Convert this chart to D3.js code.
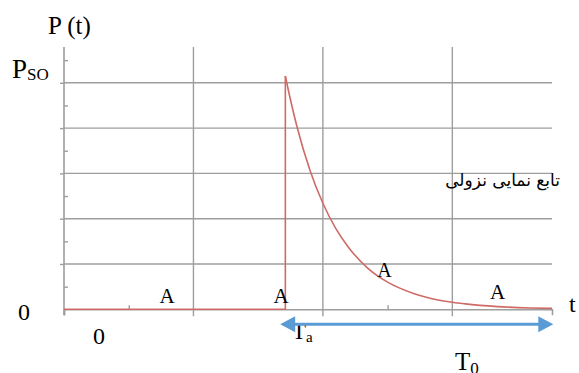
<!DOCTYPE html>
<html>
<head>
<meta charset="utf-8">
<script src="https://cdn.jsdelivr.net/npm/d3@7"></script>
<style>
    body { margin: 0; background: #fff; }
</style>
</head>
<body>
<div id="chart"></div>
<script>
// values (t and P in grid units)
let gridT = [1, 2, 3];
let gridP = [1, 2, 3, 4, 5];
let minorP = [0.5, 1.5, 2.5, 3.5, 4.5, 5.5];
let minorT = [0.5, 2.5];

let pulseT = [0, 1.71, 1.71];
let pulseP = [0, 0, 5.15];

let decayT = [1.71, 1.75, 1.80, 1.90, 2.00, 2.10, 2.20, 2.35, 2.50, 2.70, 2.90, 3.10, 3.35, 3.60, 3.77];
let decayP = [5.15, 4.62, 4.03, 3.07, 2.34, 1.78, 1.36, 0.90, 0.60, 0.35, 0.20, 0.12, 0.06, 0.03, 0.02];

let spanT = [1.67, 3.78]; // blue double arrow

let width = 579, height = 373;
let grey = "#9e9e9e";
let red = "#cf6a66";
let blue = "#5b9bd5";
let serif = "'Liberation Serif', 'Times New Roman', 'DejaVu Serif', serif";

let svg = d3.select("#chart").append("svg")
    .attr("width", width)
    .attr("height", height);

let x = d3.scaleLinear().domain([0, 3.77]).range([64, 552]);
let y = d3.scaleLinear().domain([0, 5.79]).range([309.3, 47]);

// grid
let grid = svg.append("g").attr("stroke", grey).attr("stroke-width", 1.4);
grid.selectAll("line.h").data(gridP).enter().append("line")
    .attr("x1", x(0)).attr("x2", x(3.77))
    .attr("y1", d => y(d)).attr("y2", d => y(d));
grid.selectAll("line.v").data(gridT).enter().append("line")
    .attr("x1", d => x(d)).attr("x2", d => x(d))
    .attr("y1", y(5.79)).attr("y2", y(0) + 7);

// axes
let yAxis = svg.append("g")
    .attr("transform", "translate(" + x(0) + ",0)")
    .call(d3.axisLeft(y).tickValues(gridP).tickSize(4).tickFormat(""));
let yMinor = svg.append("g")
    .attr("transform", "translate(" + x(0) + ",0)")
    .call(d3.axisRight(y).tickValues(minorP).tickSize(4).tickFormat(""));
let xAxis = svg.append("g")
    .attr("transform", "translate(0," + y(0) + ")")
    .call(d3.axisBottom(x).tickValues([0]).tickSize(6).tickFormat(""));
let xMinor = svg.append("g")
    .attr("transform", "translate(0," + y(0) + ")")
    .call(d3.axisTop(x).tickValues(minorT).tickSize(4).tickFormat(""));
for (let g of [yAxis, yMinor, xAxis, xMinor]) {
    g.selectAll(".domain").attr("stroke", grey).attr("stroke-width", 1.6);
    g.selectAll(".tick line").attr("stroke", grey).attr("stroke-width", 1.4);
}
yMinor.select(".domain").remove();
xMinor.select(".domain").remove();
yAxis.select(".domain").attr("d", "M0," + y(5.79) + "V" + (y(0) + 6));

// pulse + decay
let line = d3.line().x(d => x(d[0])).y(d => y(d[1]));
svg.append("path")
    .datum(pulseT.map((t, i) => [t, pulseP[i]]))
    .attr("fill", "none").attr("stroke", red).attr("stroke-width", 1.6)
    .attr("d", line);
svg.append("path")
    .datum(decayT.map((t, i) => [t, decayP[i]]))
    .attr("fill", "none").attr("stroke", red).attr("stroke-width", 1.6)
    .attr("d", line.curve(d3.curveMonotoneX));

// labels
function label(txt, px, py, size, anchor) {
    return svg.append("text").attr("x", px).attr("y", py)
        .attr("font-family", serif).style("font-family", serif)
        .attr("font-size", size).attr("text-anchor", anchor || "start").text(txt);
}
label("P (t)", 48, 33.5, 25);
let pso = label("P", 12, 77.5, 27);
pso.append("tspan").attr("font-size", 17).attr("dy", 2).text("SO");
label("0", 18, 320, 24);
label("0", 93, 344, 24);
label("A", 167, 303, 21, "middle");
label("A", 281, 303, 21, "middle");
label("A", 384.5, 277, 20, "middle");
label("A", 497.5, 299, 21, "middle");
label("t", 569, 312, 24);
let ta = label("T", 292, 338.5, 23);
ta.append("tspan").attr("font-size", 15).attr("dy", 3).text("a");
let t0 = label("T", 455, 370, 25);
t0.append("tspan").attr("font-size", 17).attr("dy", 4).text("0");
svg.append("text")
    .attr("x", 560).attr("y", 186)
    .attr("font-family", "'DejaVu Sans', sans-serif")
    .attr("font-size", 17)
    .attr("text-anchor", "start")
    .attr("direction", "rtl")
    .text("تابع نمایی نزولی");

// blue double arrow
let ay = 324.3;
let ax0 = x(spanT[0]), ax1 = x(spanT[1]);
let arrow = svg.append("g").attr("fill", blue);
arrow.append("line")
    .attr("x1", ax0 + 10).attr("x2", ax1 - 10)
    .attr("y1", ay).attr("y2", ay)
    .attr("stroke", blue).attr("stroke-width", 3);
arrow.append("path")
    .attr("d", "M" + ax0 + "," + ay + "L" + (ax0 + 15) + "," + (ay - 8) + "L" + (ax0 + 15) + "," + (ay + 8) + "Z");
arrow.append("path")
    .attr("d", "M" + ax1 + "," + ay + "L" + (ax1 - 15) + "," + (ay - 8) + "L" + (ax1 - 15) + "," + (ay + 8) + "Z");
</script>
</body>
</html>
